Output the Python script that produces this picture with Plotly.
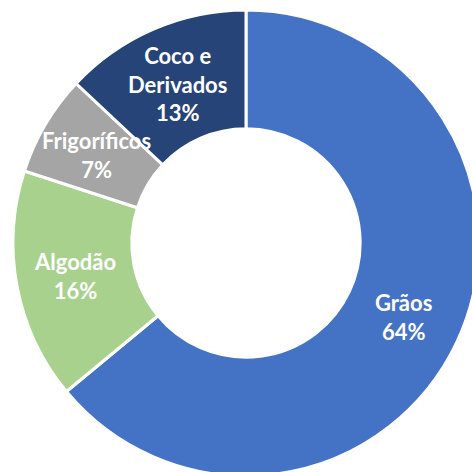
import math
import plotly.graph_objects as go

categories = ["Grãos", "Algodão", "Frigoríficos", "Coco e<br>Derivados"]
values = [64, 16, 7, 13]
colors = ["#4472C4", "#A9D18E", "#A5A5A5", "#264478"]

HOLE = 0.49
W, H = 500, 500
L, T = 13, 10
PLOT = 466

fig = go.Figure(go.Pie(
    labels=categories,
    values=values,
    sort=False,
    direction="clockwise",
    rotation=0,
    hole=HOLE,
    marker=dict(colors=colors, line=dict(color="white", width=3)),
    textinfo="none",
    hoverinfo="skip",
    showlegend=False,
    domain=dict(x=[0, 1], y=[0, 1]),
))

total = sum(values)
cum = 0
rmid = (1 + HOLE) / 2
for lab, v in zip(categories, values):
    mid = (cum + v / 2) / total * 2 * math.pi
    cum += v
    x = 0.5 + 0.5 * rmid * math.sin(mid)
    y = 0.5 + 0.5 * rmid * math.cos(mid)
    fig.add_annotation(
        x=x, y=y, xref="paper", yref="paper",
        xanchor="center", yanchor="middle",
        text=f"<b>{lab}<br>{round(v / total * 100)}%</b>",
        showarrow=False,
        font=dict(family="Lato, 'Open Sans', sans-serif", size=22, color="white"),
        align="center",
    )

fig.update_layout(
    width=W, height=H,
    margin=dict(l=L, t=T, r=W - L - PLOT, b=H - T - PLOT, pad=0),
    paper_bgcolor="white",
    plot_bgcolor="white",
)

fig.write_html(
    "out.html",
    config={"displayModeBar": False},
    post_script="document.body.style.margin='0';document.body.style.overflow='hidden';document.documentElement.style.overflow='hidden';",
)
